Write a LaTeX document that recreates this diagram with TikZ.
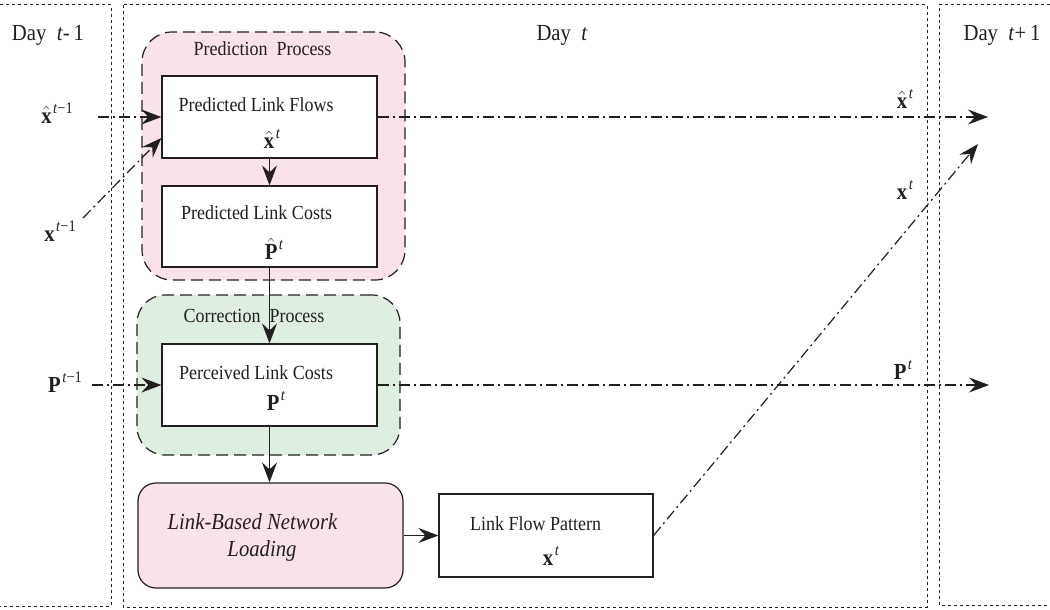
\documentclass[tikz,border=0pt]{standalone}
\usepackage{fontspec}
\setmainfont{Liberation Serif}[FakeStretch=0.9]
\usetikzlibrary{arrows.meta}
\definecolor{pinkfill}{RGB}{250,226,236}
\definecolor{greenfill}{RGB}{222,238,225}
\definecolor{ink}{RGB}{35,31,32}
\newcommand{\supx}[1]{\kern1.5pt\raisebox{1.0ex}{\fontsize{16}{16}\selectfont\mdseries #1}}
\newcommand{\hatx}[1]{$\hat{\hbox{\bfseries #1}}$}
\begin{document}
\begin{tikzpicture}[x=1pt,y=-1pt,
  >={Stealth[length=20pt,width=15pt,inset=7pt]},
  box/.style={draw=ink, line width=1.2pt, fill=white, minimum width=215pt, minimum height=82pt, inner sep=0pt},
  group/.style={draw=ink, dash pattern=on 12pt off 6pt, line width=1.2pt, rounded corners=30pt, inner sep=0pt},
  daybox/.style={draw=ink, dash pattern=on 3pt off 3pt, line width=1pt},
  flow/.style={draw=ink, line width=1.2pt, ->},
  dd/.style={draw=ink, line width=1.2pt, dash pattern=on 11pt off 4pt on 2pt off 4pt, ->},
  txt/.style={text=ink, font=\fontsize{20}{22}\selectfont, inner sep=0pt},
  daylbl/.style={text=ink, font=\fontsize{23}{26}\selectfont, inner sep=0pt},
  sym/.style={text=ink, font=\fontsize{23}{25}\selectfont\bfseries, inner sep=0pt},
  ital/.style={text=ink, font=\fontsize{23}{26}\selectfont\itshape, inner sep=0pt}]
\useasboundingbox (0,0) rectangle (1050,610);
% day boxes
\draw[daybox] (0,5) -- (111,5) -- (111,606) -- (0,606);
\draw[daybox] (123,5) rectangle (927,607);
\draw[daybox] (1050,5) -- (939,5) -- (939,605) -- (1050,605);
\node[daylbl] (d1) at (48,35) {Day~~\textit{t}-\,1};
\node[daylbl] (d2) at (562,35) {Day~~\textit{t}};
\node[daylbl] (d3) at (1002,35) {Day~~\textit{t}+\,1};
% groups
\node[group, fill=pinkfill, minimum width=263pt, minimum height=248pt] (pred) at (273.5,156) {};
\node[group, fill=greenfill, minimum width=263pt, minimum height=160pt, rounded corners=28pt] (corr) at (268.5,375) {};
\node[txt] (predt) at (262.5,49) {Prediction~~Process};
\node[txt] (corrt) at (254,316) {Correction~~Process};
% boxes
\node[box] (flows) at (269.5,117) {};
\node[box, minimum height=81pt] (costs) at (269.5,226.5) {};
\node[box] (perc) at (269.5,385) {};
\node[box, fill=pinkfill, rounded corners=18pt, minimum width=265pt, minimum height=105pt] (lbnl) at (270.5,535.5) {};
\node[box, minimum width=214pt, minimum height=83pt] (lfp) at (546,535.5) {};
% box texts
\node[txt] (flowst) at (256,105) {Predicted Link Flows};
\node[sym] (flowss) at (272,139) {\hatx{x}\supx{\textit{t}}};
\node[txt] (costst) at (256.5,213) {Predicted Link Costs};
\node[sym] (costss) at (274,249) {\hatx{P}\supx{\textit{t}}};
\node[txt] (perct) at (256,373) {Perceived Link Costs};
\node[sym] (percs) at (276,401) {P\supx{\textit{t}}};
\node[ital] (lbnl1) at (252.5,522) {Link-Based Network};
\node[ital] (lbnl2) at (262,551) {Loading};
\node[txt] (lfpt) at (535.5,524) {Link Flow Pattern};
\node[sym] (lfps) at (551,556) {x\supx{\textit{t}}};
% outer labels
\node[sym] (lxh1) at (57,113) {\hatx{x}\supx{\textit{t}−1}};
\node[sym] (lx1) at (60,231) {x\supx{\textit{t}−1}};
\node[sym] (lp1) at (65,382) {P\supx{\textit{t}−1}};
\node[sym] (lxh2) at (905,99) {\hatx{x}\supx{\textit{t}}};
\node[sym] (lx2) at (905,190) {x\supx{\textit{t}}};
\node[sym] (lp2) at (903,370) {P\supx{\textit{t}}};
% connectors
\coordinate (xh1) at (98,117);
\coordinate (x1) at (83,218);
\coordinate (p1) at (92,385);
\coordinate (xh2) at (988,117);
\coordinate (x2) at (978,144);
\coordinate (p2) at (989,385);
\draw[dd] (xh1) -- (flows.west);
\draw[dd] (x1) -- ([yshift=-21pt]flows.west);
\draw[dd] (p1) -- (perc.west);
\draw[dd] (flows.east) -- (xh2);
\draw[dd] (perc.east) -- (p2);
\draw[dd] (lfp.east) -- (x2);
\draw[flow] (flows.south) -- (costs.north);
\draw[flow] (costs.south) -- (perc.north);
\draw[flow] (perc.south) -- (perc.south |- lbnl.north);
\draw[flow] (lbnl.east) -- (lfp.west);
\end{tikzpicture}
\end{document}
